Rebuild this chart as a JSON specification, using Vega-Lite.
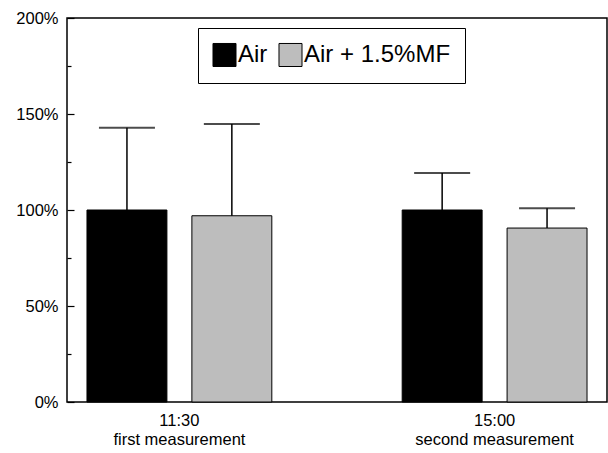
{
  "$schema": "https://vega.github.io/schema/vega-lite/v6.json",
  "autosize": {"type": "none"},
  "padding": {"left": 67, "top": 18, "right": 1, "bottom": 51},
  "width": 540,
  "height": 384,
  "background": "white",
  "config": {
    "font": "Liberation Sans",
    "view": {"stroke": "black", "strokeWidth": 1.5},
    "axis": {"labelColor": "black", "labelFont": "Liberation Sans", "domain": false, "grid": false}
  },
  "data": {
    "values": [
      {"time": "11:30|first measurement", "group": "Air", "value": 100, "upper": 142.9},
      {"time": "11:30|first measurement", "group": "Air + 1.5%MF", "value": 97, "upper": 144.8},
      {"time": "15:00|second measurement", "group": "Air", "value": 100, "upper": 119.3},
      {"time": "15:00|second measurement", "group": "Air + 1.5%MF", "value": 90.6, "upper": 100.9}
    ]
  },
  "encoding": {
    "x": {
      "field": "time", "type": "nominal", "title": null,
      "scale": {"paddingInner": 0.4136, "paddingOuter": 0.0634, "align": 0.5},
      "axis": {"labelAngle": 0, "ticks": false, "labelFontSize": 16.5, "labelLineHeight": 19, "labelPadding": 10, "labelExpr": "split(datum.value, '|')"}
    },
    "xOffset": {"field": "group", "type": "nominal", "scale": {"paddingInner": 0.238, "paddingOuter": 0}}
  },
  "layer": [
    {
      "mark": {"type": "bar", "stroke": "black", "strokeWidth": 1},
      "encoding": {
        "y": {
          "field": "value", "type": "quantitative", "title": null,
          "scale": {"domain": [0, 200], "nice": false},
          "axis": {
            "values": [0, 25, 50, 75, 100, 125, 150, 175, 200],
            "labelExpr": "datum.value % 50 === 0 ? datum.value + '%' : ''",
            "labelFontSize": 16.5,
            "tickColor": "black",
            "tickSize": {"condition": {"test": "datum.value % 50 === 0", "value": -7}, "value": -4},
            "tickWidth": 1.2,
            "labelPadding": 16
          }
        },
        "color": {
          "field": "group", "type": "nominal", "title": null,
          "scale": {"domain": ["Air", "Air + 1.5%MF"], "range": ["black", "#bdbdbd"]},
          "legend": {
            "orient": "none", "legendX": 131, "legendY": 10, "direction": "horizontal",
            "symbolType": "square", "symbolSize": 530, "symbolStrokeColor": "black", "symbolStrokeWidth": 1,
            "symbolOpacity": 1,
            "labelFontSize": 24, "labelColor": "black", "labelOffset": 1, "columnPadding": 8,
            "strokeColor": "black", "padding": 14, "fillColor": "white"
          }
        }
      }
    },
    {
      "mark": {"type": "rule", "color": "black", "strokeWidth": 1.5},
      "encoding": {
        "y": {"field": "value", "type": "quantitative"},
        "y2": {"field": "upper"}
      }
    },
    {
      "mark": {"type": "tick", "color": "black", "thickness": 2, "size": 56, "orient": "horizontal"},
      "encoding": {
        "y": {"field": "upper", "type": "quantitative"}
      }
    }
  ]
}
